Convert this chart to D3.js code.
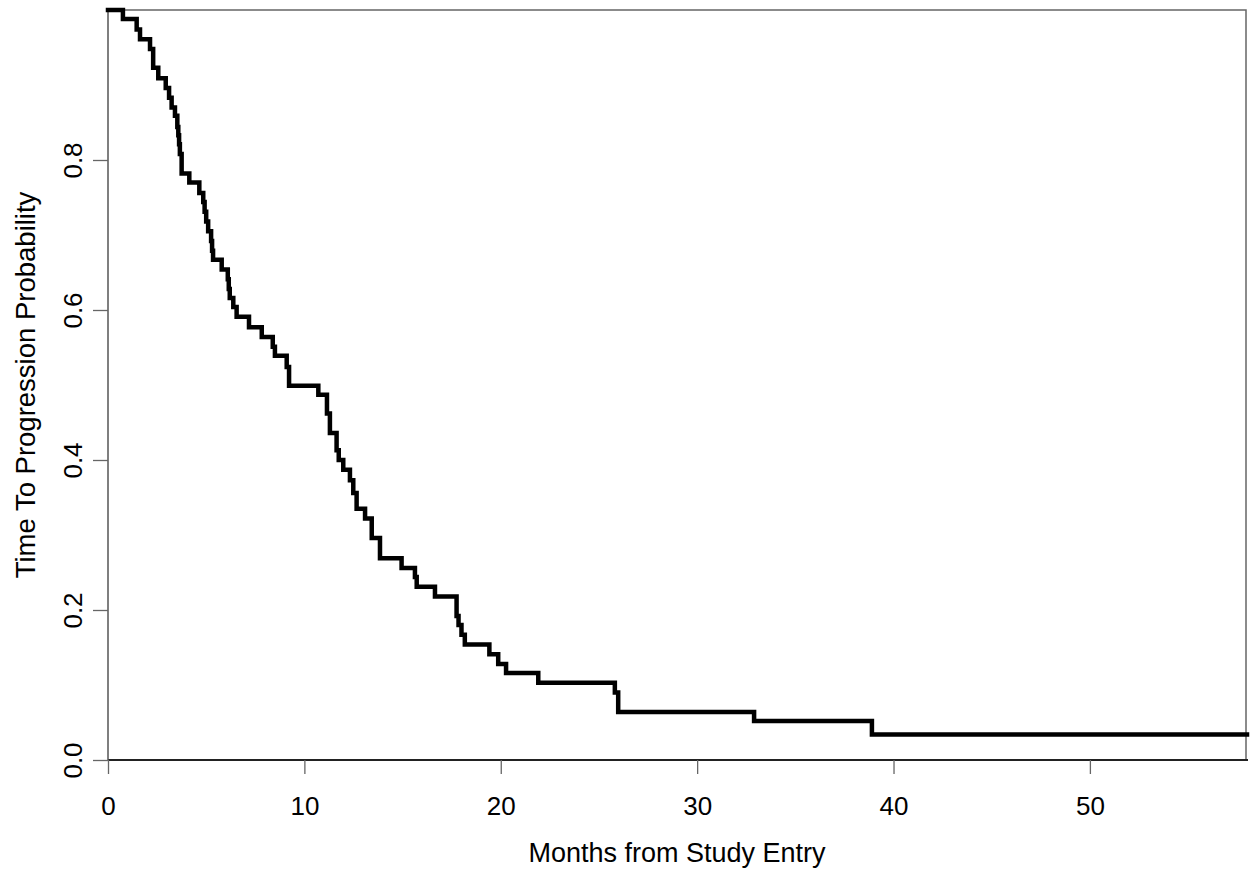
<!DOCTYPE html>
<html>
<head>
<meta charset="utf-8">
<script src="https://cdn.jsdelivr.net/npm/d3@7"></script>
<style>
  html, body { margin: 0; padding: 0; background: #fff; }
  svg { display: block; }
  text { font-family: "Liberation Sans", Arial, sans-serif; fill: #000; }
</style>
</head>
<body>
<svg id="chart" width="1250" height="873"></svg>
<script>
// Kaplan-Meier step curve: event times (months) and survival after each step
const times = [0, 0.76, 1.46, 1.63, 2.14, 2.30, 2.56, 2.94, 3.11, 3.24, 3.41, 3.53,
  3.58, 3.62, 3.66, 3.75, 4.14, 4.65, 4.85, 4.92, 5.00, 5.10, 5.25, 5.30, 5.35,
  5.79, 6.10, 6.15, 6.20, 6.38, 6.55, 7.18, 7.83, 8.39, 8.50, 9.10, 9.22, 10.71,
  11.15, 11.30, 11.64, 11.75, 11.98, 12.32, 12.49, 12.66, 13.09, 13.43, 13.85,
  14.95, 15.63, 15.72, 16.65, 17.75, 17.85, 18.00, 18.17, 19.42, 19.87, 20.27,
  21.91, 25.81, 25.98, 32.90, 38.90, 58];
const survival = [1.0, 0.988, 0.974, 0.961, 0.948, 0.923, 0.909, 0.896, 0.883, 0.870, 0.859, 0.844,
  0.833, 0.821, 0.808, 0.782, 0.770, 0.756, 0.744, 0.731, 0.718, 0.705, 0.692, 0.679, 0.667,
  0.654, 0.641, 0.628, 0.616, 0.604, 0.591, 0.577, 0.564, 0.551, 0.539, 0.524, 0.499, 0.487,
  0.462, 0.436, 0.413, 0.400, 0.387, 0.373, 0.356, 0.335, 0.322, 0.296, 0.269,
  0.256, 0.244, 0.231, 0.218, 0.192, 0.180, 0.167, 0.154, 0.141, 0.128, 0.116,
  0.103, 0.090, 0.064, 0.052, 0.034, 0.034];
const xTicks = [0, 10, 20, 30, 40, 50];
const yTicks = [0.0, 0.2, 0.4, 0.6, 0.8];
const xTitle = "Months from Study Entry";
const yTitle = "Time To Progression Probability";

const svg = d3.select("#chart");
const pLeft = 108, pRight = 1246, pTop = 10, pBottom = 760;

const x = d3.scaleLinear().domain([0, 58]).range([pLeft, 1247]);
const y = d3.scaleLinear().domain([0, 1]).range([pBottom, pTop]);

// frame (top & right)
svg.append("path")
  .attr("d", `M${pLeft},${pTop}H${pRight}V${pBottom}`)
  .attr("fill", "none").attr("stroke", "#666").attr("stroke-width", 1.5);

// x axis
const gx = svg.append("g").attr("transform", `translate(0,${pBottom})`)
  .call(d3.axisBottom(x).tickValues(xTicks).tickSize(14).tickSizeOuter(0).tickPadding(6).tickFormat(d3.format("d")));
gx.select(".domain").attr("stroke", "#222").attr("stroke-width", 2.2)
  .attr("d", `M${pLeft},0H1248`);
gx.selectAll(".tick line").attr("stroke", "#666").attr("stroke-width", 1.3);
gx.selectAll(".tick text").attr("font-size", 26).attr("fill", "#000")
  .attr("font-family", "Liberation Sans, Arial, sans-serif")
  .attr("dy", null).attr("y", 55);

// y axis
const gy = svg.append("g").attr("transform", `translate(${pLeft},0)`)
  .call(d3.axisLeft(y).tickValues(yTicks).tickSize(15).tickSizeOuter(0).tickFormat(d3.format(".1f")));
gy.select(".domain").attr("stroke", "#555").attr("stroke-width", 1.5)
  .attr("d", `M0,${pBottom}V${pTop}`);
gy.selectAll(".tick line").attr("stroke", "#666").attr("stroke-width", 1.3);
gy.selectAll(".tick text")
  .attr("font-size", 26).attr("fill", "#000")
  .attr("font-family", "Liberation Sans, Arial, sans-serif")
  .attr("x", null).attr("dy", null)
  .attr("text-anchor", "middle")
  .attr("transform", "translate(-26,0) rotate(-90)");

// axis titles
svg.append("text")
  .attr("x", (pLeft + pRight) / 2).attr("y", 862)
  .attr("text-anchor", "middle").attr("font-size", 27)
  .text(xTitle);
svg.append("text")
  .attr("transform", `translate(35,${(pTop + pBottom) / 2}) rotate(-90)`)
  .attr("text-anchor", "middle").attr("font-size", 27.5)
  .text(yTitle);

// KM curve
const pts = times.map((t, i) => [t, survival[i]]);
const line = d3.line().x(d => x(d[0])).y(d => y(d[1])).curve(d3.curveStepAfter);
svg.append("path")
  .datum(pts)
  .attr("d", line)
  .attr("fill", "none")
  .attr("stroke", "#000")
  .attr("stroke-width", 4.5)
  .attr("stroke-linejoin", "miter")
  .attr("stroke-linecap", "square");
</script>
</body>
</html>
